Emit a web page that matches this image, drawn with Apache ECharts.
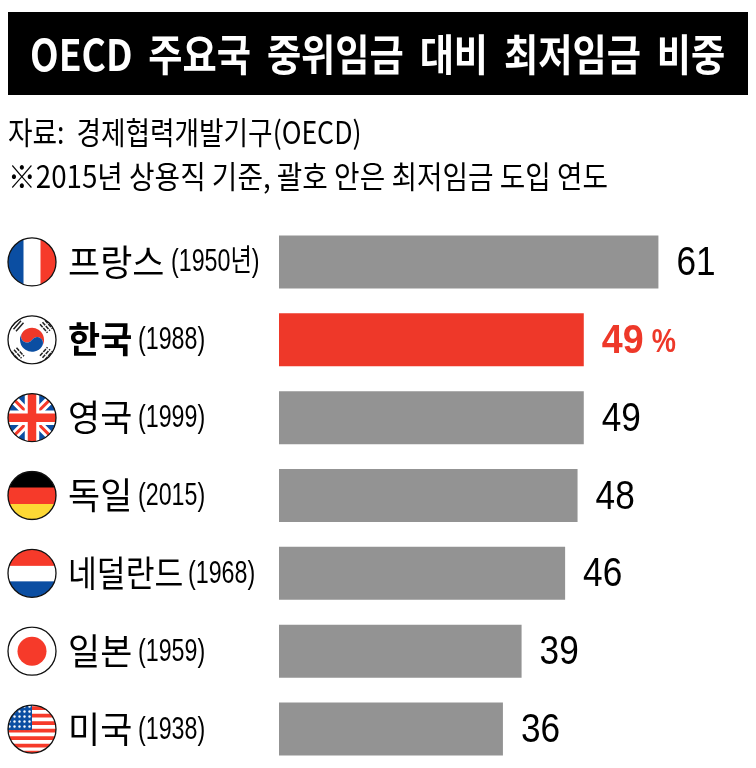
<!DOCTYPE html>
<html>
<head>
<meta charset="utf-8">
<script src="https://cdn.jsdelivr.net/npm/echarts@6/dist/echarts.min.js"></script>
<style>
  html, body { margin: 0; padding: 0; background: #fff; }
  #chart { width: 756px; height: 768px; }
</style>
</head>
<body>
<div id="chart"></div>
<script>
// 데이터
var countries = ['프랑스', '한국', '영국', '독일', '네덜란드', '일본', '미국'];
var years = ['(1950년)', '(1988)', '(1999)', '(2015)', '(1968)', '(1959)', '(1938)'];
var shares = [61, 49, 49, 48, 46, 39, 36];
var flagCodes = ['fr', 'kr', 'gb', 'de', 'nl', 'jp', 'us'];

var titleText = 'OECD\u2009 주요국\u2009 중위임금\u2009 대비\u2009 최저임금\u2009 비중';
var sourceText = '자료:  경제협력개발기구(OECD)';
var noteText = '※2015년 상용직 기준, 괄호 안은 최저임금 도입 연도';

var HIGHLIGHT = 1;
var RED = '#ee3829';
var GREY = '#939393';
var KR_FONT = '"Noto Sans CJK KR"';
var NUM_FONT = '"Liberation Sans"';

// 국기 아이콘 (원형 svg)
var flagBody = {
  fr: '<rect width="100" height="100" fill="#fff"/><rect width="33" height="100" fill="#0b4ea2"/><rect x="67" width="33" height="100" fill="#f63a2a"/>',
  kr: '<rect width="100" height="100" fill="#fff"/>' +
    '<g transform="rotate(33 50 50)">' +
    '<path d="M26 50a24 24 0 0 1 48 0a12 12 0 0 0-24 0a12 12 0 0 1-24 0z" fill="#ee3829"/>' +
    '<path d="M26 50a24 24 0 0 0 48 0a12 12 0 0 0-24 0a12 12 0 0 1-24 0z" fill="#0b4ea2"/></g>' +
    '<g stroke="#222" stroke-width="3" fill="none">' +
    '<path d="M14 27l15-17M19 31l15-17M9 23l15-17" transform="translate(-1 2)"/>' +
    '<path d="M71 14l15 17M76 10l15 17M66 18l15 17" stroke-dasharray="8 2" transform="translate(0 1)"/>' +
    '<path d="M9 73l15 17M14 69l15 17M19 65l15 17" stroke-dasharray="8 2" transform="translate(0 1)"/>' +
    '<path d="M71 86l15-17M76 90l15-17M66 82l15-17" stroke-dasharray="8 2"/></g>',
  gb: '<rect width="100" height="100" fill="#0b4ea2"/>' +
    '<path d="M0 0L100 100M100 0L0 100" stroke="#fff" stroke-width="17"/>' +
    '<path d="M0 0L100 100M100 0L0 100" stroke="#f63a2a" stroke-width="6"/>' +
    '<path d="M50 0V100M0 50H100" stroke="#fff" stroke-width="29"/>' +
    '<path d="M50 0V100M0 50H100" stroke="#f63a2a" stroke-width="17"/>',
  de: '<rect width="100" height="100" fill="#000"/><rect y="34" width="100" height="33" fill="#f63a2a"/><rect y="67" width="100" height="33" fill="#fdd835"/>',
  nl: '<rect width="100" height="100" fill="#fff"/><rect width="100" height="35" fill="#f63a2a"/><rect y="66" width="100" height="34" fill="#0b4ea2"/>',
  jp: '<rect width="100" height="100" fill="#fff"/><circle cx="50" cy="50" r="29" fill="#f63a2a"/>',
  us: '<rect width="100" height="100" fill="#fff"/>' +
    '<path d="M0 8H100M0 23H100M0 38H100M0 53H100M0 68H100M0 83H100M0 97H100" stroke="#f63a2a" stroke-width="7.5"/>' +
    '<defs><pattern id="s" width="10" height="10" patternUnits="userSpaceOnUse"><rect width="10" height="10" fill="#0b4ea2"/><circle cx="5" cy="5" r="2.4" fill="#fff"/></pattern></defs>' +
    '<rect width="50" height="52" fill="url(#s)"/>'
};

function flagImage(code) {
  var svg = '<svg xmlns="http://www.w3.org/2000/svg" width="100" height="100" viewBox="0 0 100 100">' +
    '<defs><clipPath id="c"><circle cx="50" cy="50" r="48"/></clipPath></defs>' +
    '<g clip-path="url(#c)">' + flagBody[code] + '</g>' +
    '<circle cx="50" cy="50" r="48" fill="none" stroke="#111" stroke-width="2.6"/></svg>';
  return 'data:image/svg+xml;charset=utf-8,' + encodeURIComponent(svg);
}

function renderRow(params, api) {
  var i = api.value(1);
  var pos = api.coord([shares[i], i]);
  var cy = pos[1];
  var hi = i === HIGHLIGHT;
  var yearX = [171, 138, 138, 138, 188, 138, 138][i];
  var children = [
    { type: 'image', style: { image: flagImage(flagCodes[i]), x: 7, y: cy - 25, width: 50, height: 50 } },
    {
      type: 'text', x: 68, y: cy, scaleX: i === 4 ? 0.87 : 0.97,
      style: { text: countries[i], fill: '#000', font: (hi ? 'bold' : 'normal') + ' 36px ' + KR_FONT, verticalAlign: 'middle', align: 'left' }
    },
    {
      type: 'text', x: yearX, y: cy + 1, scaleX: 0.75,
      style: { text: years[i], fill: '#000', font: 'normal 31px "Liberation Sans", ' + KR_FONT, verticalAlign: 'middle', align: 'left' }
    },
    {
      // 막대 값 라벨 (좁은 글꼴이 없어 가로로 줄임)
      type: 'text', x: pos[0] + 18, y: cy + 2, scaleX: hi ? 0.94 : 0.88,
      style: { text: String(shares[i]), fill: hi ? RED : '#000', font: (hi ? 'bold' : 'normal') + ' 40px ' + NUM_FONT, verticalAlign: 'middle', align: 'left' }
    }
  ];
  if (hi) {
    children.push({
      type: 'text', x: pos[0] + 68, y: cy + 3, scaleX: 0.8,
      style: { text: '%', fill: RED, font: 'bold 34px ' + NUM_FONT, verticalAlign: 'middle', align: 'left' }
    });
  }
  return { type: 'group', children: children };
}

var chart = echarts.init(document.getElementById('chart'), null, { renderer: 'canvas' });

chart.setOption({
  animation: false,
  backgroundColor: '#fff',
  grid: { left: 0, top: 223, width: 756, height: 546 },
  xAxis: { type: 'value', min: -279 / 6.22, max: 477 / 6.22, show: false },
  yAxis: { type: 'category', data: countries, inverse: true, show: false },
  graphic: [
    { type: 'rect', shape: { x: 8, y: 12, width: 740, height: 83 }, style: { fill: '#000' } },
    {
      type: 'text', x: 30, y: 55, scaleX: 0.865,
      style: { text: titleText, fill: '#fff', font: 'bold 43px ' + KR_FONT, verticalAlign: 'middle' }
    },
    {
      type: 'text', x: 8, y: 132, scaleX: 0.86,
      style: { text: sourceText, fill: '#000', font: 'normal 31px ' + KR_FONT, verticalAlign: 'middle' }
    },
    {
      type: 'text', x: 8, y: 176, scaleX: 0.895,
      style: { text: noteText, fill: '#000', font: 'normal 31px ' + KR_FONT, verticalAlign: 'middle' }
    }
  ],
  series: [
    {
      type: 'bar',
      barWidth: 53,
      data: shares.map(function (v, i) {
        return { value: v, itemStyle: { color: i === HIGHLIGHT ? RED : GREY } };
      })
    },
    {
      type: 'custom',
      silent: true,
      renderItem: renderRow,
      data: countries.map(function (c, i) { return [0, i]; }),
      encode: { x: 0, y: 1 },
      clip: false,
      z: 5
    }
  ]
});
</script>
</body>
</html>
